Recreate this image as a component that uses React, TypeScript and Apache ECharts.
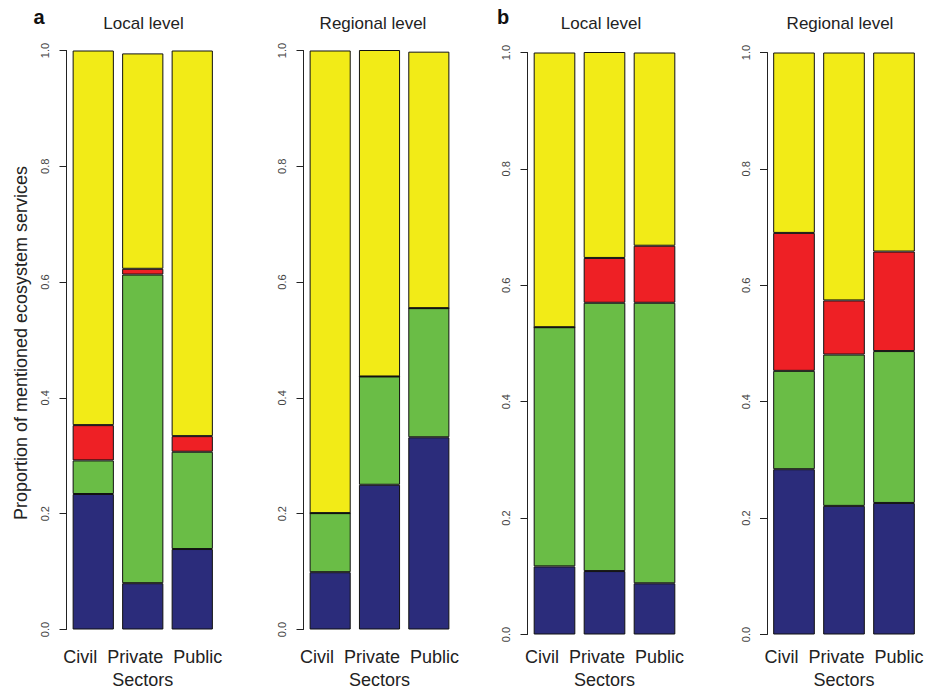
import React, { useEffect, useRef } from "react";
import * as echarts from "echarts";

// Categories
const sectors = ["Civil", "Private", "Public"];
const panelTitles = ["Local level", "Regional level", "Local level", "Regional level"];
const yTicks = [0, 0.2, 0.4, 0.6, 0.8, 1.0];

// Panel a – Local level
const aLocalBlue = [0.234, 0.08, 0.139];
const aLocalGreen = [0.058, 0.533, 0.168];
const aLocalRed = [0.061, 0.01, 0.027];
const aLocalYellow = [0.647, 0.372, 0.666];

// Panel a – Regional level
const aRegionalBlue = [0.099, 0.25, 0.332];
const aRegionalGreen = [0.102, 0.187, 0.223];
const aRegionalRed = [0, 0, 0];
const aRegionalYellow = [0.799, 0.565, 0.443];

// Panel b – Local level
const bLocalBlue = [0.117, 0.109, 0.088];
const bLocalGreen = [0.411, 0.461, 0.482];
const bLocalRed = [0, 0.077, 0.098];
const bLocalYellow = [0.472, 0.355, 0.332];

// Panel b – Regional level
const bRegionalBlue = [0.284, 0.221, 0.226];
const bRegionalGreen = [0.169, 0.26, 0.261];
const bRegionalRed = [0.237, 0.093, 0.171];
const bRegionalYellow = [0.31, 0.426, 0.342];

const panels = [
  [aLocalBlue, aLocalGreen, aLocalRed, aLocalYellow],
  [aRegionalBlue, aRegionalGreen, aRegionalRed, aRegionalYellow],
  [bLocalBlue, bLocalGreen, bLocalRed, bLocalYellow],
  [bRegionalBlue, bRegionalGreen, bRegionalRed, bRegionalYellow],
];

const colors = ["#2B2C7B", "#6ABD46", "#EE2025", "#F2EB17"];
const layerNames = ["Blue", "Green", "Red", "Yellow"];

// layout (px)
const grids = [
  { left: 68.5, width: 148.5, top: 50.5, height: 579 },
  { left: 305.5, width: 148, top: 50.5, height: 579 },
  { left: 529.5, width: 150, top: 52.5, height: 582 },
  { left: 769, width: 150, top: 52.5, height: 582 },
];
const nameGaps = [16, 16, 11, 11];
const titleX = [143.5, 373, 601, 840];

const FONT = "'Liberation Sans', Arial, Helvetica, sans-serif";

export default function App() {
  const ref = useRef<HTMLDivElement>(null);
  useEffect(() => {
    if (!ref.current) return;
    const chart = echarts.init(ref.current, null, { renderer: "svg" });
    const series: any[] = [];
    panels.forEach((layers, p) => {
      layers.forEach((vals, k) => {
        series.push({
          type: "bar",
          name: layerNames[k],
          stack: "p" + p,
          xAxisIndex: p,
          yAxisIndex: p,
          data: vals,
          barCategoryGap: "16.7%",
          itemStyle: { color: colors[k], borderColor: "#111", borderWidth: 1 },
          emphasis: { disabled: true },
        });
      });
    });
    chart.setOption({
      animation: false,
      textStyle: { fontFamily: FONT },
      grid: grids.map((g) => ({ ...g, containLabel: false, outerBoundsMode: "none" })),
      xAxis: grids.map((_, i) => ({
        type: "category",
        gridIndex: i,
        data: sectors,
        axisLine: { show: false },
        axisTick: { show: false },
        axisLabel: { show: false },
        name: "Civil  Private  Public\nSectors",
        nameLocation: "middle",
        nameGap: nameGaps[i],
        nameTextStyle: { fontSize: 18, lineHeight: 23, color: "#222", fontFamily: FONT },
      })),
      yAxis: grids.map((_, i) => ({
        type: "value",
        gridIndex: i,
        min: yTicks[0],
        max: yTicks[yTicks.length - 1],
        interval: 0.2,
        offset: 2,
        splitLine: { show: false },
        axisLine: { show: true, lineStyle: { color: "#222", width: 1 } },
        axisTick: { show: true, length: 7, lineStyle: { color: "#222" } },
        axisLabel: {
          rotate: 90,
          fontSize: 11,
          color: "#444",
          margin: 16,
          formatter: (v: number) => v.toFixed(1),
        },
      })),
      graphic: [
        ...panelTitles.map((t, i) => ({
          type: "text",
          x: titleX[i],
          y: 23,
          style: {
            text: t,
            fontSize: 17,
            fontFamily: FONT,
            fill: "#222",
            textAlign: "center",
            textVerticalAlign: "middle",
          },
        })),
        {
          type: "text",
          x: 39,
          y: 17,
          style: { text: "a", fontSize: 20, fontWeight: "bold", fontFamily: FONT, fill: "#111", textAlign: "center", textVerticalAlign: "middle" },
        },
        {
          type: "text",
          x: 503,
          y: 17,
          style: { text: "b", fontSize: 20, fontWeight: "bold", fontFamily: FONT, fill: "#111", textAlign: "center", textVerticalAlign: "middle" },
        },
        {
          type: "text",
          x: 21,
          y: 343,
          rotation: Math.PI / 2,
          style: {
            text: "Proportion of mentioned ecosystem services",
            fontSize: 18,
            fontFamily: FONT,
            fill: "#222",
            textAlign: "center",
            textVerticalAlign: "middle",
          },
        },
      ],
      series,
    });
    return () => chart.dispose();
  }, []);
  return <div ref={ref} style={{ width: 931, height: 689, position: "absolute", left: 0, top: 0 }} />;
}
